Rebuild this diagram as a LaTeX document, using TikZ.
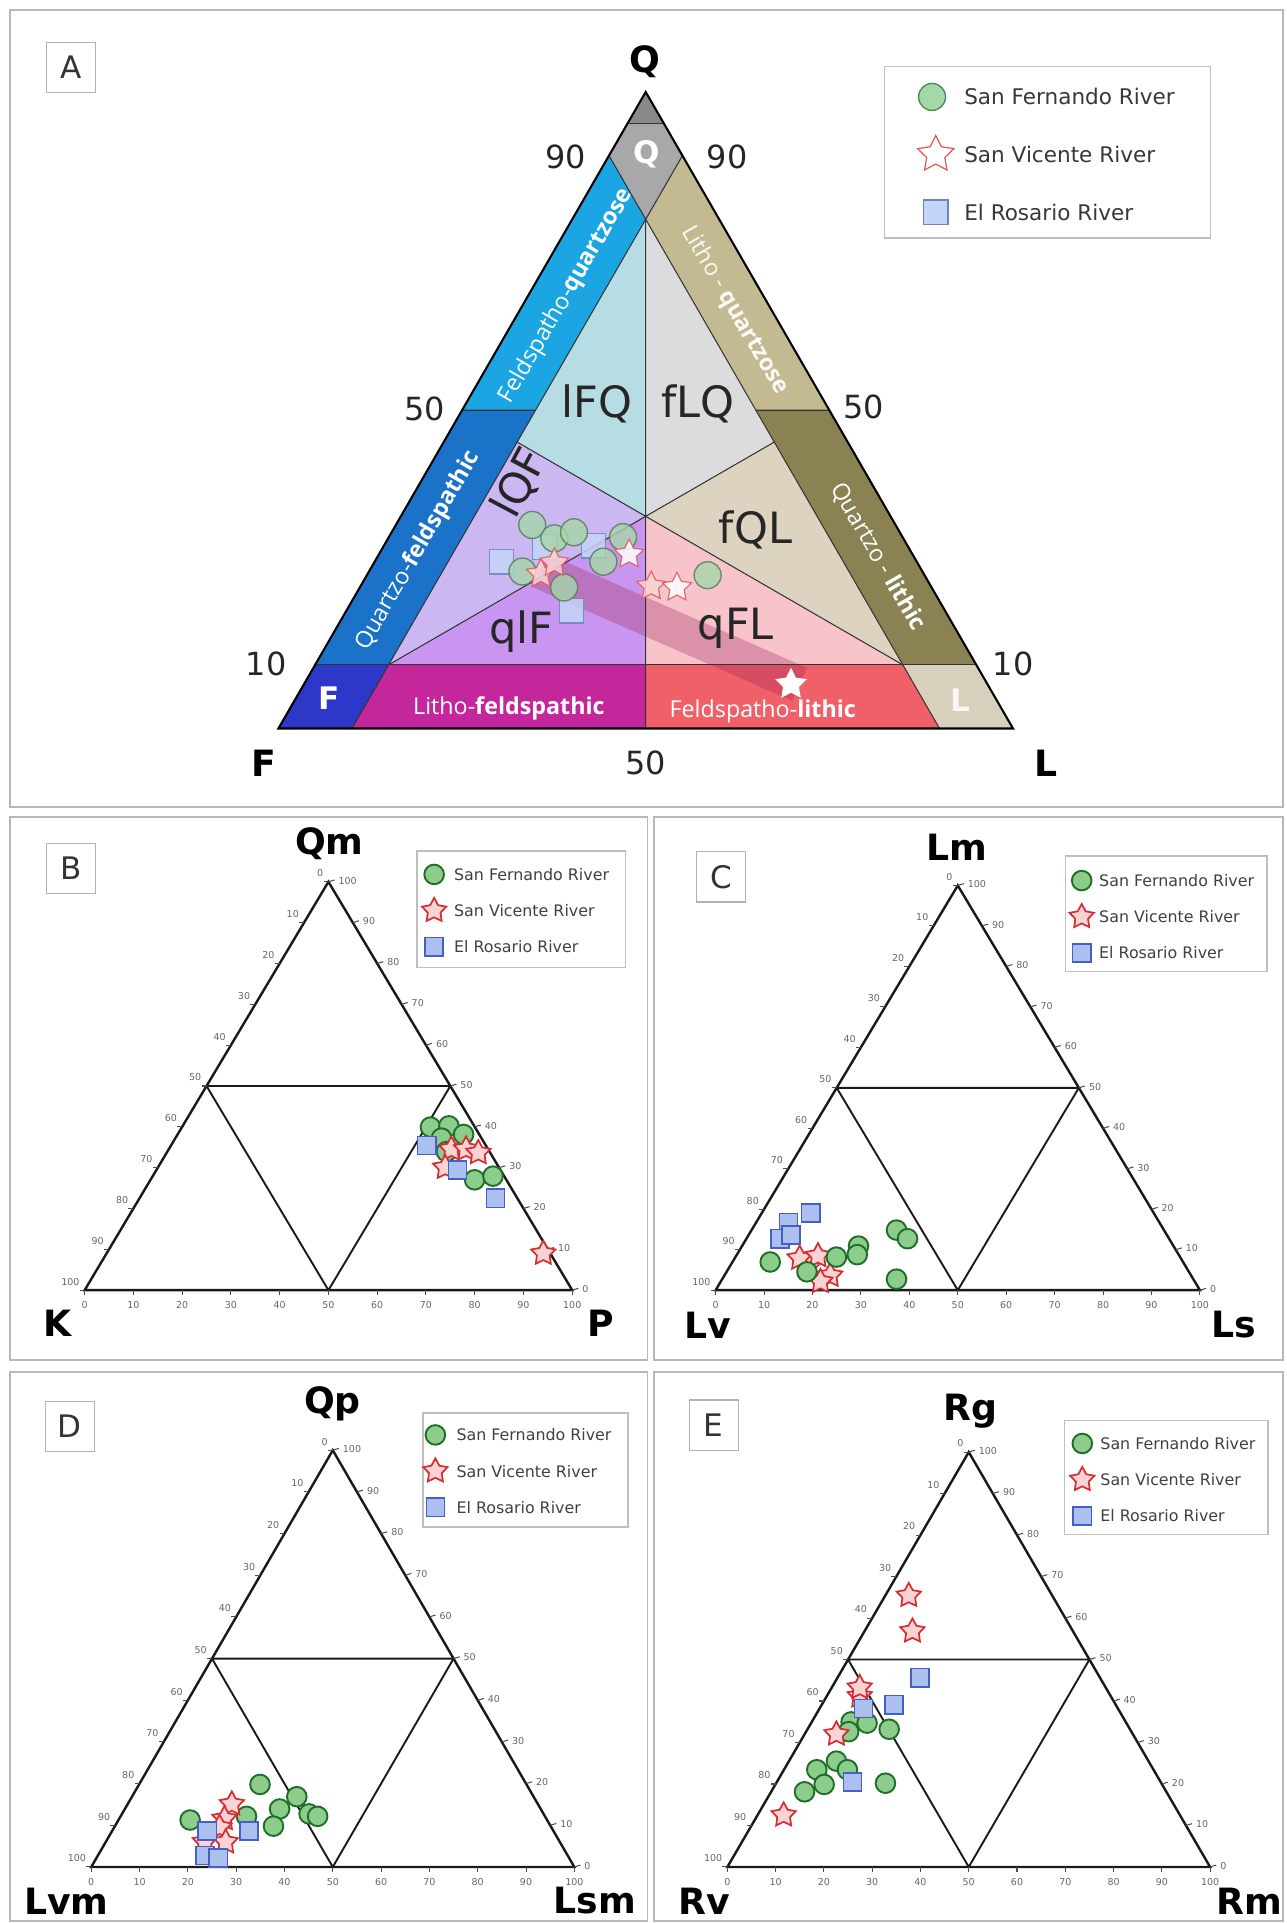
\documentclass[tikz,border=0pt]{standalone}
\usepackage{fontspec}
\setmainfont{DejaVu Sans}
\newfontfamily\bandfont{Open Sans}
\usetikzlibrary{calc}
\usetikzlibrary{shapes.geometric}

\definecolor{qapex}{RGB}{138,138,140}
\definecolor{qcorner}{RGB}{168,168,170}
\definecolor{fqband}{RGB}{27,166,227}
\definecolor{qfband}{RGB}{26,115,200}
\definecolor{fcorner}{RGB}{45,55,200}
\definecolor{lfband}{RGB}{196,38,156}
\definecolor{flband}{RGB}{240,96,104}
\definecolor{lcorner}{RGB}{214,208,188}
\definecolor{qlband}{RGB}{138,130,82}
\definecolor{lqband}{RGB}{196,186,146}
\definecolor{lFQcol}{RGB}{182,221,228}
\definecolor{fLQcol}{RGB}{220,220,222}
\definecolor{lQFcol}{RGB}{203,184,243}
\definecolor{qlFcol}{RGB}{200,150,240}
\definecolor{qFLcol}{RGB}{248,196,204}
\definecolor{fQLcol}{RGB}{220,212,192}
\definecolor{trendcol}{RGB}{160,40,90}
\definecolor{sflight}{RGB}{140,205,140}
\definecolor{sfdark}{RGB}{30,110,40}
\definecolor{sfpale}{RGB}{165,215,168}
\definecolor{sfgrey}{RGB}{85,120,85}
\definecolor{svred}{RGB}{215,45,50}
\definecolor{svpink}{RGB}{250,212,212}
\definecolor{erlight}{RGB}{172,192,240}
\definecolor{erdark}{RGB}{70,95,200}
\definecolor{erpale}{RGB}{196,213,248}
\definecolor{ergrey}{RGB}{110,130,190}

\tikzset{
  panelframe/.style={draw=black!28, line width=1.1pt},
  tagbox/.style={draw=black!30, line width=0.7pt, minimum width=1.0cm, minimum height=1.02cm, inner sep=0pt, text=black!80, font=\fontsize{18}{18}\selectfont},
  legbox/.style={draw=black!25, line width=0.8pt},
  legtextA/.style={anchor=west, inner sep=0pt, text=black!78, font=\fontsize{12.5}{14}\selectfont},
  legtext/.style={anchor=west, inner sep=0pt, text=black!75, font=\fontsize{9.2}{11}\selectfont},
  apexlabel/.style={inner sep=0pt, font=\fontsize{21}{21}\bfseries\selectfont},
  scalelabel/.style={inner sep=0pt, text=black!85, font=\fontsize{18.5}{19}\selectfont},
  fieldlabel/.style={inner sep=0pt, text=black!85, font=\fontsize{25}{25}\selectfont},
  cornerlabel/.style={inner sep=0pt, text=white, font=\fontsize{18}{18}\bfseries\selectfont},
  bandtext/.style={inner sep=0pt, text=white, font=\bandfont\fontsize{13.5}{14}\selectfont},
  fieldline/.style={line width=0.6pt, black!80},
  ternedge/.style={line width=1.4pt, black!90},
  ternfield/.style={line width=1.1pt, black!90},
  tickline/.style={line width=0.6pt, black!70},
  ticklabel/.style={inner sep=0pt, text=black!60, font=\fontsize{5.5}{6}\selectfont},
  sfA/.style={circle, draw=sfgrey, fill=sfpale, line width=0.8pt, minimum size=0.55cm, inner sep=0pt, opacity=0.8},
  svA/.style={star, star points=5, star point ratio=2.0, draw=svred!80, fill=svpink, line width=0.7pt, minimum size=0.62cm, inner sep=0pt, opacity=0.85},
  erA/.style={rectangle, draw=ergrey, fill=erpale, line width=0.7pt, minimum size=0.5cm, inner sep=0pt, opacity=0.85},
  sf/.style={circle, draw=sfdark, fill=sflight, line width=1.1pt, minimum size=0.4cm, inner sep=0pt},
  sv/.style={star, star points=5, star point ratio=1.9, draw=svred, fill=svpink, line width=1pt, minimum size=0.52cm, inner sep=0pt},
  er/.style={rectangle, draw=erdark, fill=erlight, line width=0.9pt, minimum size=0.37cm, inner sep=0pt}
}

\begin{document}
\begin{tikzpicture}[x=0.025cm, y=-0.025cm]
\useasboundingbox (0,0) rectangle (1049,1568);

% DRAW THE PANEL FRAMES
\draw[panelframe] (8,8.5) rectangle (1046,658);
\draw[panelframe] (8,666) rectangle (528,1109);
\draw[panelframe] (533,666) rectangle (1046,1109);
\draw[panelframe] (8,1119) rectangle (528,1566);
\draw[panelframe] (533,1119) rectangle (1046,1566);

\node[tagbox] (tagA) at (58,55) {A};
\node[tagbox] (tagB) at (58,708) {B};
\node[tagbox] (tagC) at (588,715) {C};
\node[tagbox] (tagD) at (57,1163) {D};
\node[tagbox] (tagE) at (582,1162) {E};

% PANEL A: THE QFL TRIANGLE
\coordinate (aQ) at (526.5,75);
\coordinate (aF) at (227,594);
\coordinate (aL) at (826,594);
\coordinate (a95f) at (barycentric cs:aQ=0.95,aF=0.05,aL=0);
\coordinate (a95l) at (barycentric cs:aQ=0.95,aF=0,aL=0.05);
\coordinate (a90f) at (barycentric cs:aQ=0.9,aF=0.1,aL=0);
\coordinate (a90l) at (barycentric cs:aQ=0.9,aF=0,aL=0.1);
\coordinate (aT) at (barycentric cs:aQ=0.8,aF=0.1,aL=0.1);
\coordinate (a50f) at (barycentric cs:aQ=0.5,aF=0.5,aL=0);
\coordinate (a50fi) at (barycentric cs:aQ=0.5,aF=0.4,aL=0.1);
\coordinate (a50l) at (barycentric cs:aQ=0.5,aF=0,aL=0.5);
\coordinate (a50li) at (barycentric cs:aQ=0.5,aF=0.1,aL=0.4);
\coordinate (a10f) at (barycentric cs:aQ=0.1,aF=0.9,aL=0);
\coordinate (a10l) at (barycentric cs:aQ=0.1,aF=0,aL=0.9);
\coordinate (aBL) at (barycentric cs:aQ=0.1,aF=0.8,aL=0.1);
\coordinate (aBR) at (barycentric cs:aQ=0.1,aF=0.1,aL=0.8);
\coordinate (a0f) at (barycentric cs:aQ=0,aF=0.9,aL=0.1);
\coordinate (a0l) at (barycentric cs:aQ=0,aF=0.1,aL=0.9);
\coordinate (a0m) at (barycentric cs:aQ=0,aF=0.5,aL=0.5);
\coordinate (aMl) at (barycentric cs:aQ=0.45,aF=0.45,aL=0.1);
\coordinate (aMr) at (barycentric cs:aQ=0.45,aF=0.1,aL=0.45);
\coordinate (aMb) at (barycentric cs:aQ=0.1,aF=0.45,aL=0.45);
\coordinate (aC) at (barycentric cs:aQ=1,aF=1,aL=1);

% FILL THE FIELDS
\fill[qapex] (aQ) -- (a95f) -- (a95l) -- cycle;
\fill[qcorner] (a95f) -- (a90f) -- (aT) -- (a90l) -- (a95l) -- cycle;
\fill[fqband] (a90f) -- (a50f) -- (a50fi) -- (aT) -- cycle;
\fill[qfband] (a50f) -- (a10f) -- (aBL) -- (a50fi) -- cycle;
\fill[fcorner] (a10f) -- (aF) -- (a0f) -- (aBL) -- cycle;
\fill[lfband] (aBL) -- (a0f) -- (a0m) -- (aMb) -- cycle;
\fill[flband] (aMb) -- (a0m) -- (a0l) -- (aBR) -- cycle;
\fill[lcorner] (aBR) -- (a0l) -- (aL) -- (a10l) -- cycle;
\fill[qlband] (a10l) -- (a50l) -- (a50li) -- (aBR) -- cycle;
\fill[lqband] (a50l) -- (a90l) -- (aT) -- (a50li) -- cycle;
\fill[lFQcol] (aT) -- (aMl) -- (aC) -- cycle;
\fill[fLQcol] (aT) -- (aC) -- (aMr) -- cycle;
\fill[lQFcol] (aMl) -- (aBL) -- (aC) -- cycle;
\fill[qlFcol] (aBL) -- (aMb) -- (aC) -- cycle;
\fill[qFLcol] (aMb) -- (aBR) -- (aC) -- cycle;
\fill[fQLcol] (aBR) -- (aMr) -- (aC) -- cycle;

% DRAW THE TREND BAND
\coordinate (aTs) at (440,465);
\coordinate (aTe) at (652,558);
\draw[line width=21pt, trendcol, opacity=0.32] (aTs) -- (aTe);

% DRAW THE FIELD BOUNDARIES
\draw[fieldline] (a95f) -- (a95l);
\draw[fieldline] (a90f) -- (aT) -- (a90l);
\draw[fieldline] (a50f) -- (a50fi);
\draw[fieldline] (a50l) -- (a50li);
\draw[fieldline] (a10f) -- (a10l);
\draw[fieldline] (a0f) -- (aT) -- (a0l);
\draw[fieldline] (aT) -- (a0m);
\draw[fieldline] (aMl) -- (aBR);
\draw[fieldline] (aMr) -- (aBL);
\draw[line width=1.2pt] (aQ) -- (aF) -- (aL) -- cycle;

% FIELD AND BAND NAMES
\node[fieldlabel] (nlFQ) at (487,329) {lFQ};
\node[fieldlabel] (nfLQ) at (569,329) {fLQ};
\node[fieldlabel, rotate=62] (nlQF) at (424,394) {lQF};
\node[fieldlabel] (nfQL) at (616,432) {fQL};
\node[fieldlabel] (nqlF) at (425,515) {qlF};
\node[fieldlabel] (nqFL) at (600,512) {qFL};
\node[bandtext, rotate=60] (bFQ) at (462,241) {Feldspatho-\textbf{quartzose}};
\node[bandtext, rotate=60] (bQF) at (341,449) {Quartzo-\textbf{feldspathic}};
\node[bandtext, rotate=-60, text=white!92!lqband] (bLQ) at (599,253) {Litho - \textbf{quartzose}};
\node[bandtext, rotate=-60] (bQL) at (716,454) {Quartzo - \textbf{lithic}};
\node[bandtext] (bLF) at (415,578) {Litho-\textbf{feldspathic}};
\node[bandtext] (bFL) at (622,580) {Feldspatho-\textbf{lithic}};
\node[cornerlabel] (cQ) at (527,126) {Q};
\node[cornerlabel] (cF) at (268,569) {F};
\node[cornerlabel, text=white!85!lcorner] (cL) at (783,571) {L};

% POLE AND SCALE LABELS
\node[apexlabel] (pQ) at (526,50) {Q};
\node[apexlabel] (pF) at (215,622) {F};
\node[apexlabel] (pL) at (853,622) {L};
\node[scalelabel] (s90l) at (461,128) {90};
\node[scalelabel] (s90r) at (593,128) {90};
\node[scalelabel] (s50l) at (346,333) {50};
\node[scalelabel] (s50r) at (704,332) {50};
\node[scalelabel] (s10l) at (217,541) {10};
\node[scalelabel] (s10r) at (826,541) {10};
\node[scalelabel] (s50b) at (526.5,622) {50};

% SAMPLES OF PANEL A
\foreach \x/\y [count=\i] in {444/446,409/458,484/445,466/498}
  \node[erA] (Aer\i) at (\x,\y) {};
\foreach \x/\y [count=\i] in {434/428,452/439,468/434,508/438,426/466,492/458,460/479,577/469}
  \node[sfA] (Asf\i) at (\x,\y) {};
\foreach \x/\y/\c [count=\i] in {441/468/svpink,452/459/svpink,531/478/svpink,552/479/white,513/452/white}
  \node[svA, fill=\c] (Asv\i) at (\x,\y) {};
\node[svA, fill=white, draw=white, opacity=1] (Asv6) at (645,558) {};

% LEGEND OF PANEL A
\draw[legbox] (721,54) rectangle (987,194);
\node[sfA, opacity=1, draw=sfdark!80] (lgAsf) at (760,79) {};
\node[svA, opacity=1, fill=white, minimum size=0.78cm] (lgAsv) at (763,126) {};
\node[erA, opacity=1] (lgAer) at (763,173) {};
\node[legtextA] (lgAsft) at (786,79) {San Fernando River};
\node[legtextA] (lgAsvt) at (786,126) {San Vicente River};
\node[legtextA] (lgAert) at (786,173) {El Rosario River};

% PANELS B TO E: THE SMALL TERNARY PLOTS
\def\ternpanel#1#2#3#4#5{%
  \coordinate (#1l) at (#2,#4);
  \coordinate (#1r) at (#3,#4);
  \coordinate (#1t) at ({(#2+#3)/2},#5);
  \coordinate (#1ml) at ($(#1t)!0.5!(#1l)$);
  \coordinate (#1mr) at ($(#1t)!0.5!(#1r)$);
  \coordinate (#1mb) at ($(#1l)!0.5!(#1r)$);
  \draw[ternfield] (#1ml) -- (#1mr) -- (#1mb) -- cycle;
  \draw[ternedge] (#1t) -- (#1l) -- (#1r) -- cycle;
  \foreach \v in {0,10,...,100}{
    \pgfmathtruncatemacro\rv{100-\v}
    \coordinate (#1lp) at ($(#1t)!{\v/100}!(#1l)$);
    \coordinate (#1rp) at ($(#1t)!{\v/100}!(#1r)$);
    \coordinate (#1bp) at ($(#1l)!{\v/100}!(#1r)$);
    \draw[tickline] (#1lp) -- ++(-4,0);
    \draw[tickline] (#1rp) -- ++(5,-1.5);
    \draw[tickline] (#1bp) -- ++(0,4);
    \node[ticklabel, anchor=east] (#1lv\v) at ($(#1lp)+(-4,-7)$) {\v};
    \node[ticklabel, anchor=west] (#1rv\v) at ($(#1rp)+(8,-1)$) {\rv};
    \node[ticklabel, anchor=north] (#1bv\v) at ($(#1bp)+(0,9)$) {\v};
  }
}

\def\minilegend#1#2#3#4#5#6#7#8{%
  \draw[legbox] (#2,#3) rectangle (#4,#5);
  \node[sf] (#1lgsf) at (#6,#8) {};
  \node[sv] (#1lgsv) at (#6,{#8+29.5}) {};
  \node[er] (#1lger) at (#6,{#8+59}) {};
  \node[legtext] (#1lgsft) at (#7,#8) {San Fernando River};
  \node[legtext] (#1lgsvt) at (#7,{#8+29.5}) {San Vicente River};
  \node[legtext] (#1lgert) at (#7,{#8+59}) {El Rosario River};
}

% PANEL B
\ternpanel{B}{69}{466.6}{1052}{719}
\node[apexlabel] (pQm) at (268.5,688) {Qm};
\node[apexlabel] (pK) at (47,1079) {K};
\node[apexlabel] (pP) at (490,1079) {P};
\foreach \x/\y [count=\i] in {351/919,366/918,378/925,360/928,364/939,387/962,402/959}
  \node[sf] (Bsf\i) at (\x,\y) {};
\foreach \x/\y [count=\i] in {368/937,380/937,390/940,363/952,443/1022}
  \node[sv] (Bsv\i) at (\x,\y) {};
\foreach \x/\y [count=\i] in {348/934,373/954,404/977}
  \node[er] (Ber\i) at (\x,\y) {};
\minilegend{B}{340}{694}{510}{789}{354}{370}{713}

% PANEL C
\ternpanel{C}{583.5}{978.4}{1052}{722}
\node[apexlabel] (pLm) at (780,691) {Lm};
\node[apexlabel] (pLv) at (577,1081) {Lv};
\node[apexlabel] (pLs) at (1006,1080) {Ls};
\foreach \x/\y [count=\i] in {661/989,643/997,636/1010,645/1007}
  \node[er] (Cer\i) at (\x,\y) {};
\foreach \x/\y [count=\i] in {660/1032,652/1026,667/1024,677/1040,669/1045}
  \node[sv] (Csv\i) at (\x,\y) {};
\foreach \x/\y [count=\i] in {628/1029,658/1037,682/1025,700/1016,699/1023,731/1003,740/1010,731/1043}
  \node[sf] (Csf\i) at (\x,\y) {};
\minilegend{C}{869}{698}{1033}{792}{882}{896}{718}

% PANEL D
\ternpanel{D}{74.4}{468.3}{1522.3}{1182.5}
\node[apexlabel] (pQp) at (271,1145) {Qp};
\node[apexlabel] (pLvm) at (54,1550) {Lvm};
\node[apexlabel] (pLsm) at (485,1550) {Lsm};
\foreach \x/\y [count=\i] in {155/1484,212/1455,242/1465,228/1475,201/1481,223/1489,252/1479,259/1481}
  \node[sf] (Dsf\i) at (\x,\y) {};
\foreach \x/\y [count=\i] in {189/1471,183/1483,179/1490,167/1502,184/1502}
  \node[sv] (Dsv\i) at (\x,\y) {};
\foreach \x/\y [count=\i] in {203/1493,169/1493,167/1513,178/1515}
  \node[er] (Der\i) at (\x,\y) {};
\minilegend{D}{345}{1152}{512}{1245}{355}{372}{1170}

% PANEL E
\ternpanel{E}{593.1}{986.7}{1522.3}{1184}
\node[apexlabel] (pRg) at (791,1151) {Rg};
\node[apexlabel] (pRv) at (574,1550) {Rv};
\node[apexlabel] (pRm) at (1019,1550) {Rm};
\foreach \x/\y [count=\i] in {694/1404,707/1405,725/1410,692/1412,682/1436,666/1443,691/1443,672/1455,656/1461,722/1454}
  \node[sf] (Esf\i) at (\x,\y) {};
\foreach \x/\y [count=\i] in {741/1301,744/1330,701/1383,701/1376,682/1414,639/1480}
  \node[sv] (Esv\i) at (\x,\y) {};
\foreach \x/\y [count=\i] in {750/1368,729/1390,704/1393,695/1453}
  \node[er] (Eer\i) at (\x,\y) {};
\minilegend{E}{868}{1158}{1034}{1251}{882.5}{897}{1177}

\end{tikzpicture}
\end{document}
